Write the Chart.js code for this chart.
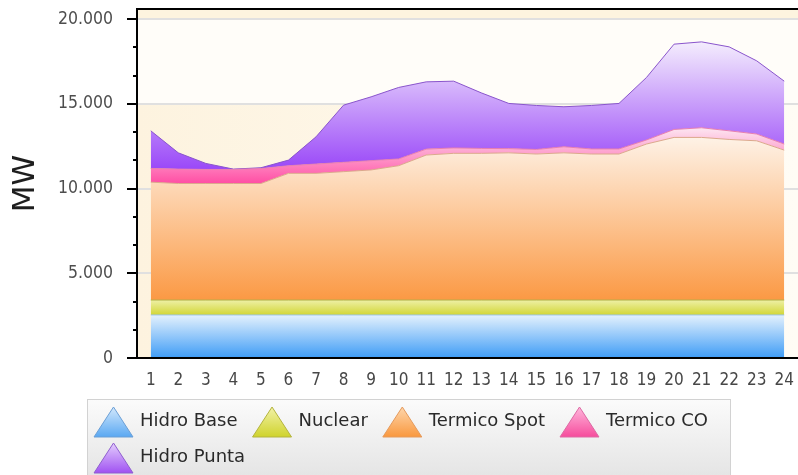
<!DOCTYPE html>
<html>
<head>
<meta charset="utf-8">
<script src="https://cdn.jsdelivr.net/npm/chart.js@4.4.1/dist/chart.umd.min.js"></script>
<style>
  html, body { margin: 0; padding: 0; background: #ffffff; }
  #wrap { width: 798px; height: 475px; }
</style>
</head>
<body>
<div id="wrap"><canvas id="chart" width="798" height="475"></canvas></div>
<script>
// horas del dia
const hours = ['1', '2', '3', '4', '5', '6', '7', '8', '9', '10', '11', '12',
               '13', '14', '15', '16', '17', '18', '19', '20', '21', '22', '23', '24'];

// marcas del eje MW
const yTicks = [0, 5000, 10000, 15000, 20000];

// generacion por tecnologia (MW)
const hidroBase = [2540, 2540, 2540, 2540, 2540, 2540, 2540, 2540, 2540, 2540, 2540, 2540,
                   2540, 2540, 2540, 2540, 2540, 2540, 2540, 2540, 2540, 2540, 2540, 2540];
const nuclear = [880, 880, 880, 880, 880, 880, 880, 880, 880, 880, 880, 880,
                 880, 880, 880, 880, 880, 880, 880, 880, 880, 880, 880, 880];
const termicoSpot = [6960, 6880, 6880, 6880, 6880, 7480, 7480, 7580, 7680, 7930, 8560, 8660,
                     8660, 8690, 8620, 8690, 8620, 8620, 9210, 9600, 9600, 9480, 9400, 8850];
const termicoCO = [810, 850, 830, 830, 880, 450, 550, 550, 550, 400, 350, 320,
                   290, 250, 270, 360, 300, 300, 240, 470, 570, 510, 400, 360];
const hidroPunta = [2220, 960, 355, 20, 50, 330, 1605, 3375, 3765, 4220, 3970, 3940,
                    3280, 2665, 2595, 2360, 2565, 2685, 3690, 5035, 5070, 4955, 4320, 3710];

const seriesNames = ['Hidro Base', 'Nuclear', 'Termico Spot', 'Termico CO', 'Hidro Punta'];
const seriesValues = [hidroBase, nuclear, termicoSpot, termicoCO, hidroPunta];

// colores: [claro arriba, saturado abajo, borde]
const palette = [
  ['#e4f1fd', '#3e9cf6', '#9cc4ea'],
  ['#eef0a6', '#d2d636', '#b2b24a'],
  ['#fef2e6', '#fb9944', '#dca88c'],
  ['#fde6f1', '#ff4ea4', '#e77fb1'],
  ['#f4edfd', '#9a48f8', '#8a55cc']
];
const legendColors = [
  ['#d2e8fc', '#5aa8f2', '#6b9fd6'],
  ['#f2f2a8', '#cfd32c', '#b4b43e'],
  ['#fed6ac', '#f9983e', '#e59a5c'],
  ['#ffb6dc', '#f64c9c', '#dd6aa4'],
  ['#e4cefd', '#a052f2', '#8f5fcf']
];

const tickFont = '"DejaVu Sans Condensed", "DejaVu Sans", sans-serif';
const textFont = '"DejaVu Sans", sans-serif';

function stackTop(i, h) {
  let s = 0;
  for (let k = 0; k <= i; k++) s += seriesValues[k][h];
  return s;
}

function areaFill(i) {
  return function(context) {
    const chart = context.chart;
    if (!chart.chartArea) return palette[i][1];
    const y = chart.scales.y;
    let hi = 0, lo = Infinity;
    for (let h = 0; h < hours.length; h++) {
      hi = Math.max(hi, stackTop(i, h));
      lo = Math.min(lo, i > 0 ? stackTop(i - 1, h) : 0);
    }
    const g = chart.ctx.createLinearGradient(0, y.getPixelForValue(hi), 0, y.getPixelForValue(lo));
    g.addColorStop(0, palette[i][0]);
    g.addColorStop(1, palette[i][1]);
    return g;
  };
}

function miles(v) {
  return String(v).replace(/\B(?=(\d{3})+(?!\d))/g, '.');
}

const datasets = seriesNames.map(function(name, i) {
  return {
    label: name,
    data: seriesValues[i],
    fill: i === 0 ? 'origin' : '-1',
    backgroundColor: areaFill(i),
    borderColor: palette[i][2],
    borderWidth: 1,
    pointRadius: 0,
    tension: 0
  };
});

// fondo del area de grafico
const plotBackground = {
  id: 'plotBackground',
  beforeDraw(chart) {
    const {ctx, chartArea: a, scales} = chart;
    const y = scales.y;
    ctx.save();
    const g = ctx.createLinearGradient(a.left, 0, a.right, 0);
    g.addColorStop(0, '#fdf3df');
    g.addColorStop(1, '#fffcf5');
    ctx.fillStyle = g;
    ctx.fillRect(a.left, a.top, a.right - a.left, a.bottom - a.top);
    const y20 = y.getPixelForValue(20000), y15 = y.getPixelForValue(15000);
    ctx.fillStyle = '#fffdf9';
    ctx.fillRect(a.left, y20, a.right - a.left, y15 - y20);
    ctx.fillStyle = '#fdf4df';
    ctx.fillRect(a.left, a.top, a.right - a.left, y20 - a.top);
    ctx.restore();
  }
};

// marco superior, marcas menores y leyenda
const frameAndLegend = {
  id: 'frameAndLegend',
  afterDraw(chart) {
    const {ctx, chartArea: a, scales} = chart;
    const y = scales.y;
    ctx.save();
    ctx.strokeStyle = '#000';
    ctx.lineWidth = 2;
    ctx.beginPath();
    ctx.moveTo(a.left - 1, a.top);
    ctx.lineTo(a.right, a.top);
    ctx.stroke();
    for (let k = 1; k < yTicks.length; k++) {
      const step = (yTicks[k] - yTicks[k - 1]) / 3;
      for (let m = 1; m < 3; m++) {
        const py = Math.round(y.getPixelForValue(yTicks[k - 1] + m * step));
        ctx.beginPath();
        ctx.moveTo(a.left - 4, py);
        ctx.lineTo(a.left, py);
        ctx.stroke();
      }
    }

    const left = 87, right = 730, top = a.bottom + 41;
    const g = ctx.createLinearGradient(0, top, 0, chart.height);
    g.addColorStop(0, '#fbfbfb');
    g.addColorStop(1, '#e5e5e5');
    ctx.fillStyle = g;
    ctx.fillRect(left, top, right - left, chart.height - top + 2);
    ctx.strokeStyle = '#d2d2d2';
    ctx.lineWidth = 1;
    ctx.strokeRect(left + 0.5, top + 0.5, right - left, chart.height - top + 4);

    ctx.font = '18px ' + textFont;
    ctx.textBaseline = 'middle';
    ctx.textAlign = 'left';
    let x = left + 7, ty = top + 8;
    chart.data.datasets.forEach(function(ds, i) {
      const w = 39 + 7 + ctx.measureText(ds.label).width;
      if (x + w > right - 4) { x = left + 7; ty += 36; }
      const tg = ctx.createLinearGradient(0, ty, 0, ty + 30);
      tg.addColorStop(0, legendColors[i][0]);
      tg.addColorStop(1, legendColors[i][1]);
      ctx.beginPath();
      ctx.moveTo(x + 19.5, ty);
      ctx.lineTo(x + 39, ty + 30);
      ctx.lineTo(x, ty + 30);
      ctx.closePath();
      ctx.fillStyle = tg;
      ctx.fill();
      ctx.strokeStyle = legendColors[i][2];
      ctx.lineWidth = 1;
      ctx.stroke();
      ctx.fillStyle = '#2a2a2a';
      ctx.fillText(ds.label, x + 46, ty + 14);
      x += w + 15;
    });
    ctx.restore();
  }
};

new Chart(document.getElementById('chart'), {
  type: 'line',
  data: { labels: hours, datasets: datasets },
  options: {
    responsive: false,
    devicePixelRatio: 1,
    animation: false,
    layout: { padding: { left: 0, top: 9, right: 0, bottom: 77 } },
    plugins: {
      legend: { display: false },
      tooltip: { enabled: false }
    },
    scales: {
      x: {
        type: 'category',
        offset: true,
        grid: { display: false },
        border: { display: true, color: '#000', width: 2, z: 1 },
        ticks: {
          autoSkip: false,
          maxRotation: 0,
          padding: 4,
          color: '#474747',
          font: { family: tickFont, size: 17 }
        },
        afterFit(scale) {
          scale.height = 40;
          scale.paddingLeft = 0;
          scale.paddingRight = 0;
        }
      },
      y: {
        stacked: true,
        min: 0,
        max: 20600,
        grid: {
          color: '#e0e0e0',
          lineWidth: 2,
          tickColor: '#000',
          tickWidth: 2,
          tickLength: 10
        },
        border: { display: true, color: '#000', width: 2, z: 1 },
        ticks: {
          padding: 14,
          color: '#4d4d4d',
          font: { family: tickFont, size: 17.5 },
          callback: function(v) { return miles(v); }
        },
        afterBuildTicks(scale) {
          scale.ticks = yTicks.map(function(v) { return { value: v }; });
        },
        title: {
          display: true,
          text: 'MW',
          color: '#1e1e1e',
          font: { family: textFont, size: 31 },
          padding: { top: 7 }
        },
        afterFit(scale) {
          scale.width = 137;
          scale.paddingTop = 0;
          scale.paddingBottom = 0;
        }
      }
    }
  },
  plugins: [plotBackground, frameAndLegend]
});
</script>
</body>
</html>
